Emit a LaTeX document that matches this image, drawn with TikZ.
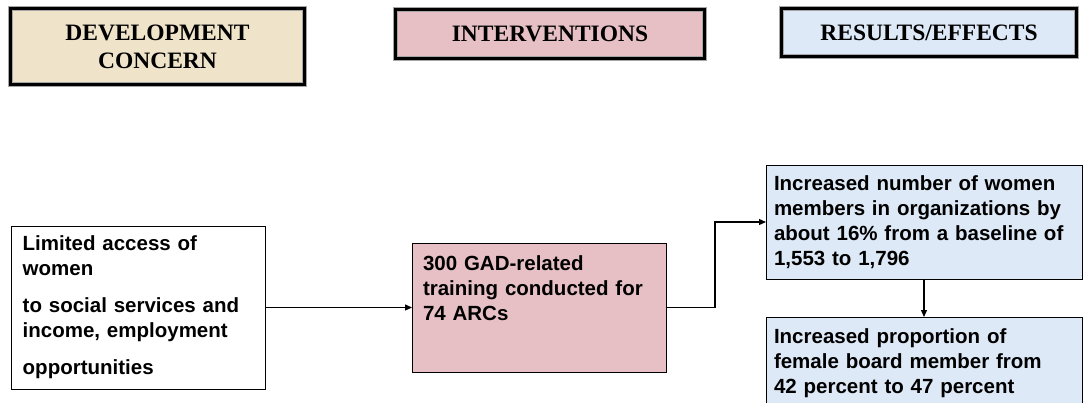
\documentclass[tikz,border=0pt]{standalone}
\usepackage{fontspec}
\usetikzlibrary{arrows.meta}
\newfontfamily\titlefont{Liberation Serif}
\newfontfamily\bodyfont{Liberation Sans}
\definecolor{devbeige}{RGB}{239,227,201}
\definecolor{intpink}{RGB}{230,192,196}
\definecolor{resblue}{RGB}{221,233,246}
\tikzset{
  headbox/.style={draw=gray!70, double=black, double distance=3.5pt, line width=0.9pt, anchor=north west, outer sep=0pt, align=center, font=\titlefont\bfseries\fontsize{23.5}{28}\selectfont},
  bodybox/.style={draw=black, line width=1pt, anchor=north west, outer sep=0pt, align=left, inner xsep=11pt, font=\bodyfont\bfseries\fontsize{20.5}{25}\selectfont},
  link/.style={line width=1.2pt, -{Triangle[length=7pt,width=6pt]}}
}
\begin{document}
\begin{tikzpicture}[x=1pt, y=-1pt]
        \useasboundingbox (0,0) rectangle (1083,402);
        \node[headbox, fill=devbeige, minimum width=294pt, minimum height=76pt] (concern) at (10.5,8.5) {DEVELOPMENT\\CONCERN};
        \node[headbox, fill=intpink, minimum width=309pt, minimum height=49pt] (interv) at (395.5,9.5) {INTERVENTIONS};
        \node[headbox, fill=resblue, minimum width=295pt, minimum height=48pt] (results) at (781.5,8.5) {RESULTS/EFFECTS};
        \node[bodybox, minimum width=254pt, minimum height=163pt, text width=232pt] (access) at (11.7,226) {Limited access of\\women\\[12pt]to social services and\\income, employment\\[12pt]opportunities};
        \node[bodybox, fill=intpink, minimum width=254pt, minimum height=129pt, text width=232pt, inner ysep=12pt, text depth=89pt] (training) at (412,243) {300 GAD-related\\training conducted for\\74 ARCs};
        \node[bodybox, fill=resblue, minimum width=316pt, minimum height=114pt, text width=300pt, inner xsep=8pt] (members) at (766,165) {Increased number of women\\members in organizations by\\about 16\% from a baseline of\\1,553 to 1,796};
        \node[bodybox, fill=resblue, minimum width=316pt, minimum height=92pt, text width=300pt, inner xsep=8pt] (board) at (766,317) {Increased proportion of\\female board member from\\42 percent to 47 percent};
        \draw[link] (access) -- (training);
        \draw[link] (training.east) -- ++(49,0) |- (members.west);
        \draw[link] (members) -- (board);
      \end{tikzpicture}
\end{document}
